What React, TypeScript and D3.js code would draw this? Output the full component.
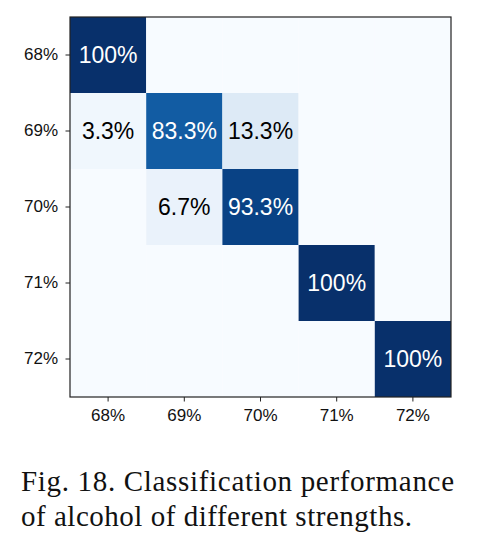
import React, { useEffect, useRef } from "react";
import * as d3 from "d3";

const labels = ["68%", "69%", "70%", "71%", "72%"];
// rows = true strength, columns = predicted strength (percent)
const row68 = [100, 0, 0, 0, 0];
const row69 = [3.3, 83.3, 13.3, 0, 0];
const row70 = [0, 6.7, 93.3, 0, 0];
const row71 = [0, 0, 0, 100, 0];
const row72 = [0, 0, 0, 0, 100];
const rows = [row68, row69, row70, row71, row72];

const captionLines = [
  "Fig. 18.  Classification performance",
  "of alcohol of different strengths.",
];

export default function App() {
  const svgRef = useRef<SVGSVGElement>(null);
  const width = 482;
  const height = 540;

  useEffect(() => {
    if (!svgRef.current) return;
    const svg = d3.select(svgRef.current);
    svg.selectAll("*").remove();

    const margin = { top: 17, left: 70, right: 31, bottom: 143 };
    const x = d3.scaleBand().domain(labels).range([margin.left, width - margin.right]);
    const y = d3.scaleBand().domain(labels).range([margin.top, height - margin.bottom]);
    const color = d3.scaleSequential(d3.interpolateBlues).domain([0, 100]);

    const cells = rows.flatMap((r, i) =>
      r.map((v, j) => ({ row: labels[i], col: labels[j], v }))
    );

    svg.append("g")
      .selectAll("rect")
      .data(cells)
      .join("rect")
      .attr("x", (d) => x(d.col)!)
      .attr("y", (d) => y(d.row)!)
      .attr("width", x.bandwidth())
      .attr("height", y.bandwidth())
      .attr("fill", (d) => color(d.v));

    svg.append("g")
      .selectAll("text")
      .data(cells.filter((d) => d.v > 0))
      .join("text")
      .attr("x", (d) => x(d.col)! + x.bandwidth() / 2)
      .attr("y", (d) => y(d.row)! + y.bandwidth() / 2)
      .attr("text-anchor", "middle")
      .attr("dy", "0.36em")
      .attr("font-family", "Liberation Sans, Arial, sans-serif")
      .attr("font-size", 23)
      .attr("fill", (d) => (d.v > 50 ? "#fff" : "#000"))
      .text((d) => (d.v === 100 ? "100%" : d.v.toFixed(1) + "%"));

    // frame
    svg.append("rect")
      .attr("x", margin.left)
      .attr("y", margin.top)
      .attr("width", width - margin.left - margin.right)
      .attr("height", height - margin.top - margin.bottom)
      .attr("fill", "none")
      .attr("stroke", "#222")
      .attr("stroke-width", 1.2);

    const xAxis = svg.append("g")
      .attr("transform", `translate(0,${height - margin.bottom})`)
      .call(d3.axisBottom(x).tickSize(4.5).tickPadding(7.5));
    const yAxis = svg.append("g")
      .attr("transform", `translate(${margin.left},0)`)
      .call(d3.axisLeft(y).tickSize(4.5).tickPadding(7.5));
    [xAxis, yAxis].forEach((g) => {
      g.select(".domain").remove();
      g.selectAll("line").attr("stroke", "#222");
      g.selectAll("text")
        .attr("font-family", "Liberation Sans, Arial, sans-serif")
        .attr("font-size", 17)
        .attr("fill", "#111");
    });

    svg.append("g")
      .selectAll("text")
      .data(captionLines)
      .join("text")
      .attr("x", 21)
      .attr("y", (_, i) => 491 + i * 35)
      .attr("font-family", "Liberation Serif, DejaVu Serif, serif")
      .attr("font-size", 29)
      .attr("fill", "#111")
      .attr("textLength", (_, i) => (i === 0 ? 433 : 391))
      .attr("lengthAdjust", "spacing")
      .text((d) => d);
  }, []);

  return (
    <svg
      ref={svgRef}
      width={width}
      height={height}
      style={{ position: "absolute", left: 0, top: 0, background: "#fff" }}
    />
  );
}
